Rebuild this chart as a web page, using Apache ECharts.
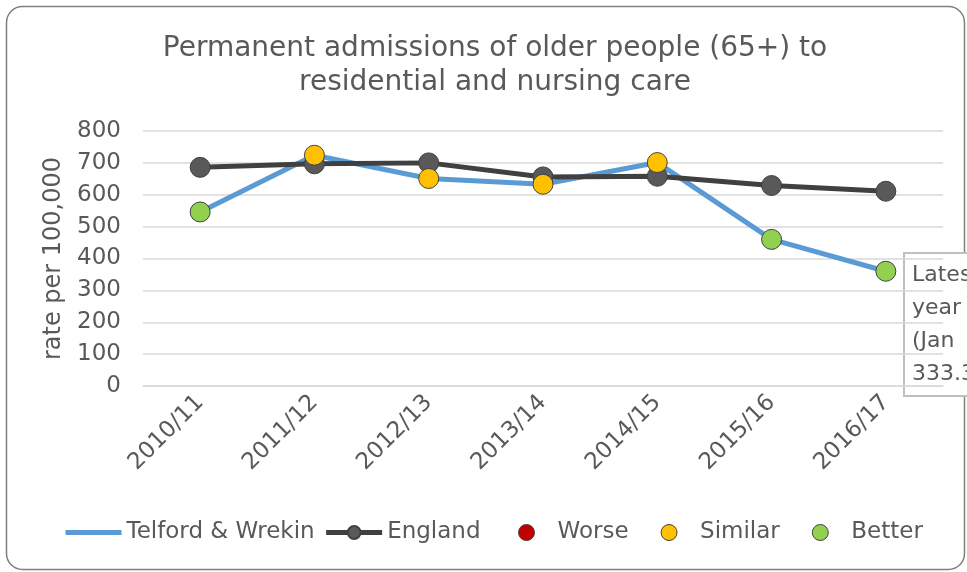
<!DOCTYPE html>
<html>
<head>
<meta charset="utf-8">
<script src="https://cdn.jsdelivr.net/npm/echarts@6/dist/echarts.min.js"></script>
<style>
  html, body { margin: 0; padding: 0; background: #fff; }
  #chart { width: 967px; height: 572px; }
</style>
</head>
<body>
<div id="chart"></div>
<script>
const years = ["2010/11", "2011/12", "2012/13", "2013/14", "2014/15", "2015/16", "2016/17"];
const telford = [546, 724, 651, 633, 701, 460, 360];
const england = [686, 697, 700, 656, 658, 629, 611];
// comparison with England for each Telford point
const rating = ["Better", "Similar", "Similar", "Similar", "Similar", "Better", "Better"];
const yTicks = { min: 0, max: 800, step: 100 };

const FONT = "DejaVu Sans";
const GREY = "#595959";

const ratingColors = { Worse: "#c00000", Similar: "#ffc000", Better: "#92d050" };

const ratingSeries = ["Worse", "Similar", "Better"].map((name) => ({
  name: name,
  type: "scatter",
  data: telford.map((v, i) => (rating[i] === name ? v : "-")),
  symbol: "circle",
  symbolSize: 20,
  z: 5,
  itemStyle: {
    color: ratingColors[name],
    borderColor: "#404040",
    borderWidth: 1,
    opacity: 1,
  },
}));

const myChart = echarts.init(document.getElementById("chart"));

const options = {
  animation: false,
  title: {
    text: "Permanent admissions of older people (65+) to\nresidential and nursing care",
    left: 490,
    textAlign: "center",
    top: 27,
    textStyle: {
      fontFamily: FONT,
      fontSize: 28,
      fontWeight: "normal",
      color: GREY,
      lineHeight: 34,
    },
  },
  grid: { left: 143, right: 24, top: 131, bottom: 186 },
  legend: [
    {
      data: [
        { name: "Telford & Wrekin", itemStyle: { opacity: 0 } },
        { name: "England" },
      ],
      left: 63,
      top: 521,
      padding: 0,
      itemWidth: 56,
      itemHeight: 16,
      itemGap: 9,
      lineStyle: { width: 5 },
      textStyle: { fontFamily: FONT, fontSize: 23, color: GREY },
    },
    {
      data: ["Worse", "Similar", "Better"],
      left: 518,
      top: 521,
      padding: 0,
      itemWidth: 16,
      itemHeight: 16,
      itemGap: 32,
      icon: "circle",
      itemStyle: { borderColor: "#404040", borderWidth: 1 },
      textStyle: { fontFamily: FONT, fontSize: 23, color: GREY, padding: [0, 0, 0, 18] },
    },
  ],
  xAxis: {
    type: "category",
    data: years,
    axisLine: { lineStyle: { color: "#d9d9d9", width: 1.5 } },
    axisTick: { show: false },
    axisLabel: {
      rotate: 45,
      margin: 13,
      fontFamily: FONT,
      fontSize: 23,
      color: GREY,
    },
  },
  yAxis: {
    type: "value",
    min: yTicks.min,
    max: yTicks.max,
    interval: yTicks.step,
    name: "rate per 100,000",
    nameLocation: "middle",
    nameGap: 72,
    nameTextStyle: { fontFamily: FONT, fontSize: 24, color: GREY },
    axisLine: { show: false },
    axisTick: { show: false },
    splitLine: { lineStyle: { color: "#d9d9d9", width: 1.5 } },
    axisLabel: { margin: 22, fontFamily: FONT, fontSize: 23, color: GREY },
  },
  series: [
    {
      name: "Telford & Wrekin",
      type: "line",
      data: telford,
      symbol: "none",
      z: 2,
      color: "#5b9bd5",
      lineStyle: { width: 5, color: "#5b9bd5" },
    },
    {
      name: "England",
      type: "line",
      data: england,
      symbol: "circle",
      symbolSize: 20,
      z: 3,
      color: "#595959",
      lineStyle: { width: 5, color: "#404040" },
      itemStyle: { color: "#595959", borderColor: "#404040", borderWidth: 1 },
    },
    ...ratingSeries,
  ],
  graphic: [
    {
      type: "rect",
      left: 4,
      top: 4,
      shape: { width: 958, height: 563, r: 16 },
      style: { fill: "none", stroke: "#7f7f7f", lineWidth: 1.5 },
      silent: true,
    },
    {
      type: "group",
      left: 903,
      top: 252,
      z: 10,
      children: [
        {
          type: "rect",
          shape: { x: 0, y: 0, width: 120, height: 143 },
          style: { fill: "#fff", stroke: "#bfbfbf", lineWidth: 2 },
        },
        {
          type: "text",
          x: 8,
          y: 6,
          style: {
            text: "Latest\nyear\n(Jan\n333.3",
            font: "22px " + FONT,
            fill: GREY,
            lineHeight: 33,
          },
        },
      ],
    },
  ],
};

myChart.setOption(options);
</script>
</body>
</html>
